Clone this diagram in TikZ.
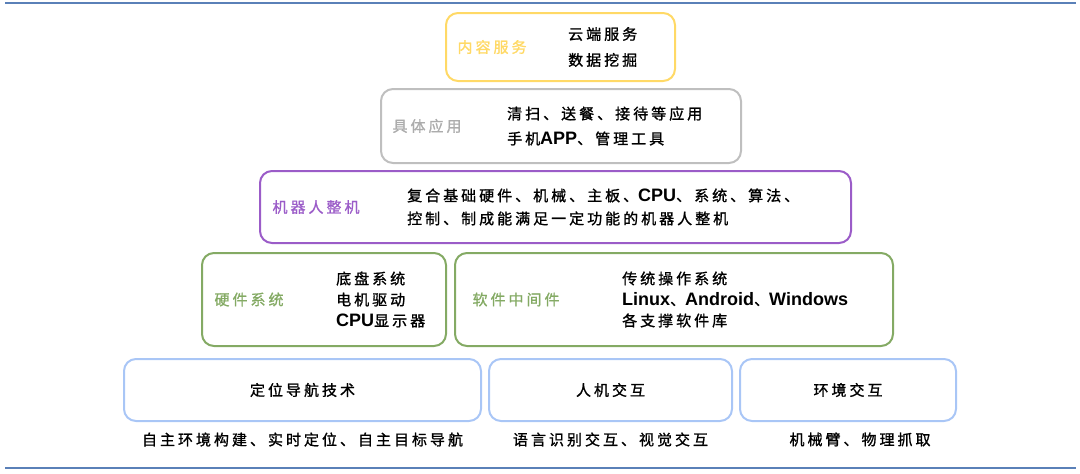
\documentclass[tikz,border=0pt]{standalone}
\usepackage{fontspec}
\setmainfont[LetterSpace=20,FakeBold=1.2,AutoFakeBold=1.2]{Noto Sans CJK SC}
\newfontfamily\en{Liberation Sans}
\usepackage{tikz}
\usetikzlibrary{positioning}

\definecolor{svcyellow}{HTML}{FFD966}
\definecolor{appgray}{HTML}{BFBFBF}
\definecolor{robotpurple}{HTML}{9B5CC8}
\definecolor{midgreen}{HTML}{84AA64}
\definecolor{basicblue}{HTML}{A9C6F6}
\definecolor{ruleblue}{HTML}{5A80B8}

\newcommand{\lat}[1]{{\en\bfseries\fontsize{18}{21}\selectfont #1}}

\tikzset{
  layer/.style={draw, rounded corners=12pt, line width=2pt, inner sep=0pt},
  tag/.style={font=\fontsize{15}{20}\selectfont},
  items/.style={align=left, inner sep=0pt, font=\fontsize{15}{#1}\selectfont},
  rule/.style={line width=1.8pt, ruleblue}
}

\begin{document}
\begin{tikzpicture}[x=1pt,y=-1pt]
\useasboundingbox (0,0) rectangle (1080,474);
\coordinate (topl) at (5,3);
\coordinate (topr) at (1076,3);
\coordinate (botl) at (5,468);
\coordinate (botr) at (1076,468);
\draw[rule] (topl) -- (topr);
\draw[rule] (botl) -- (botr);

\node[layer, draw=svcyellow, minimum width=229pt, minimum height=68pt] (svc) at (560.5,47) {};
\node[tag, text=svcyellow, right=9pt of svc.west] (svclbl) {内容服务};
\node[items=26pt, right=123pt of svc.west] (svctxt) {云端服务\\数据挖掘};

\node[layer, draw=appgray, minimum width=360pt, minimum height=74pt] (app) at (561,126) {};
\node[tag, text=appgray!90!black, right=9pt of app.west] (applbl) {具体应用};
\node[items=25pt, right=127pt of app.west] (apptxt) {清扫、送餐、接待等应用\\手机\lat{APP}、管理工具};

\node[layer, draw=robotpurple, minimum width=591pt, minimum height=72pt] (robot) at (555.5,207) {};
\node[tag, text=robotpurple, right=10pt of robot.west] (robotlbl) {机器人整机};
\node[items=23pt, right=148pt of robot.west] (robottxt) {复合基础硬件、机械、主板、\lat{CPU}、系统、算法、\\控制、制成能满足一定功能的机器人整机};

\node[layer, draw=midgreen, minimum width=244pt, minimum height=93pt] (hw) at (324,299.5) {};
\node[tag, text=midgreen, right=10pt of hw.west] (hwlbl) {硬件系统};
\node[items=21pt, right=135pt of hw.west] (hwtxt) {底盘系统\\电机驱动\\\lat{CPU}显示器};

\node[layer, draw=midgreen, minimum width=438pt, minimum height=93pt] (sw) at (674,299.5) {};
\node[tag, text=midgreen, right=15pt of sw.west] (swlbl) {软件中间件};
\node[items=21pt, right=168pt of sw.west] (swtxt) {传统操作系统\\\lat{Linux}、\lat{Android}、\lat{Windows}\\各支撑软件库};

\node[layer, draw=basicblue, minimum width=357pt, minimum height=62pt, tag] (nav) at (302.5,390) {定位导航技术};
\node[layer, draw=basicblue, minimum width=243pt, minimum height=62pt, tag] (hci) at (610.5,390) {人机交互};
\node[layer, draw=basicblue, minimum width=216pt, minimum height=62pt, tag] (env) at (848,390) {环境交互};
\node[tag, below=7pt of nav] (navtxt) {自主环境构建、实时定位、自主目标导航};
\node[tag, below=7pt of hci] (hcitxt) {语言识别交互、视觉交互};
\node[tag, below=7pt of env, xshift=12pt] (envtxt) {机械臂、物理抓取};
\end{tikzpicture}
\end{document}
